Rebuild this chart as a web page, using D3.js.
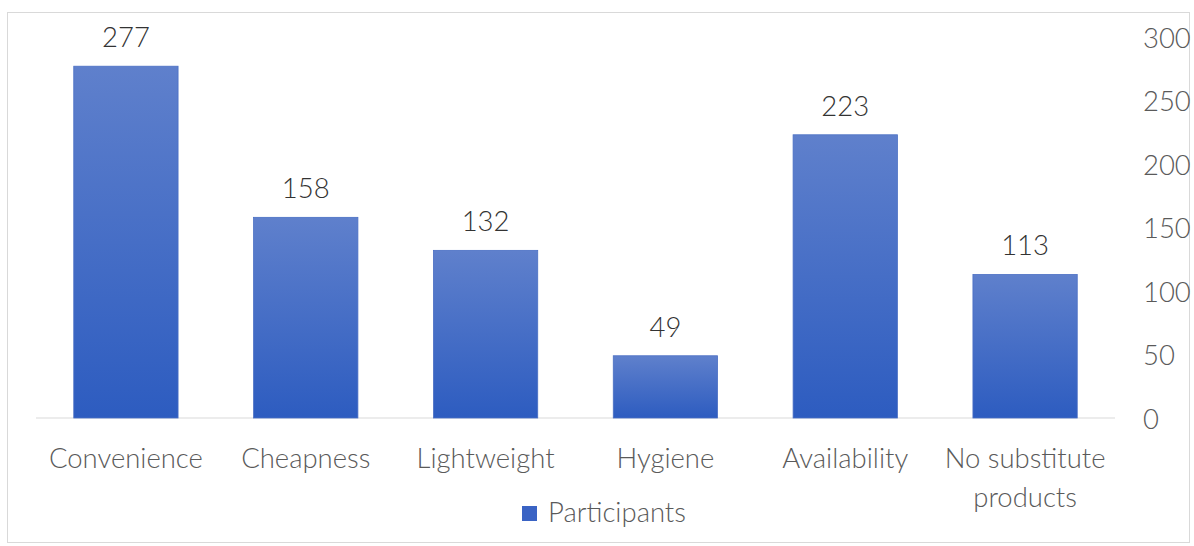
<!DOCTYPE html>
<html>
<head>
<meta charset="utf-8">
<script src="https://cdn.jsdelivr.net/npm/d3@7"></script>
<style>
  html, body { margin: 0; padding: 0; background: #fff; }
  svg { display: block; }
</style>
</head>
<body>
<svg id="chart" width="1194" height="546"></svg>
<script>
const categories = ["Convenience", "Cheapness", "Lightweight", "Hygiene", "Availability", "No substitute products"];
const values = [277, 158, 132, 49, 223, 113];
const yTicks = [0, 50, 100, 150, 200, 250, 300];
const seriesName = "Participants";

const svg = d3.select("#chart");
const FONT = "Lato, 'Noto Sans', sans-serif";
const TEXT = "#5a5a5a";

// calibrate font size to match reference label width
const probe = svg.append("text").attr("font-family", FONT).attr("font-size", 100).attr("font-weight", 300).text("Convenience");
const pw = probe.node().getComputedTextLength();
probe.remove();
const FS = Math.max(20, Math.min(34, 100 * 154 / pw));

// chart border
svg.append("rect").attr("x", 7.5).attr("y", 12.5).attr("width", 1182).attr("height", 530)
  .attr("fill", "#fff").attr("stroke", "#d9d9d9").attr("stroke-width", 1);

const x = d3.scaleBand().domain(categories).range([36, 1115]).paddingInner(0.42).paddingOuter(0.21);
const y = d3.scaleLinear().domain([0, 300]).range([418, 37]);

const defs = svg.append("defs");
const grad = defs.append("linearGradient").attr("id", "barGrad").attr("x1", 0).attr("y1", 0).attr("x2", 0).attr("y2", 1);
grad.append("stop").attr("offset", "0%").attr("stop-color", "#5f80cc");
grad.append("stop").attr("offset", "100%").attr("stop-color", "#2d5cc0");

// baseline
svg.append("line").attr("x1", 36).attr("x2", 1115).attr("y1", y(0)).attr("y2", y(0))
  .attr("stroke", "#d9d9d9").attr("stroke-width", 1.2);

const data = categories.map((c, i) => ({ c, v: values[i] }));

svg.append("g").selectAll("rect").data(data).join("rect")
  .attr("x", d => x(d.c))
  .attr("width", x.bandwidth())
  .attr("y", d => y(d.v))
  .attr("height", d => y(0) - y(d.v))
  .attr("fill", "url(#barGrad)")
  .attr("stroke", "#4a6fc4").attr("stroke-width", 0.8);

// data labels
svg.append("g").selectAll("text").data(data).join("text")
  .attr("x", d => x(d.c) + x.bandwidth() / 2)
  .attr("y", d => y(d.v) - 19)
  .attr("text-anchor", "middle")
  .attr("font-family", FONT).attr("font-size", FS).attr("font-weight", 300).attr("fill", "#333333")
  .text(d => d.v);

// right axis
const axis = d3.axisRight(y).tickValues(yTicks).tickSize(0).tickPadding(0);
const ag = svg.append("g").attr("transform", "translate(1143,0)").call(axis);
ag.select(".domain").remove();
ag.selectAll("text").attr("font-family", FONT).attr("font-size", FS).attr("font-weight", 300).attr("fill", TEXT)
  .attr("dy", null).attr("y", 10).attr("x", 0).attr("text-anchor", "start");

// category labels (wrapped)
const wrapMap = { "No substitute products": ["No substitute", "products"] };
const cg = svg.append("g");
data.forEach(d => {
  const lines = wrapMap[d.c] || [d.c];
  const t = cg.append("text")
    .attr("x", x(d.c) + x.bandwidth() / 2)
    .attr("y", 468)
    .attr("text-anchor", "middle")
    .attr("font-family", FONT).attr("font-size", FS).attr("font-weight", 300).attr("fill", TEXT);
  lines.forEach((ln, i) => {
    t.append("tspan").attr("x", x(d.c) + x.bandwidth() / 2).attr("dy", i === 0 ? 0 : 39).text(ln);
  });
});

// legend
svg.append("rect").attr("x", 522).attr("y", 506).attr("width", 15).attr("height", 15).attr("fill", "#3a63c4");
svg.append("text").attr("x", 548).attr("y", 522)
  .attr("font-family", FONT).attr("font-size", FS).attr("font-weight", 300).attr("fill", TEXT).text(seriesName);
</script>
</body>
</html>
